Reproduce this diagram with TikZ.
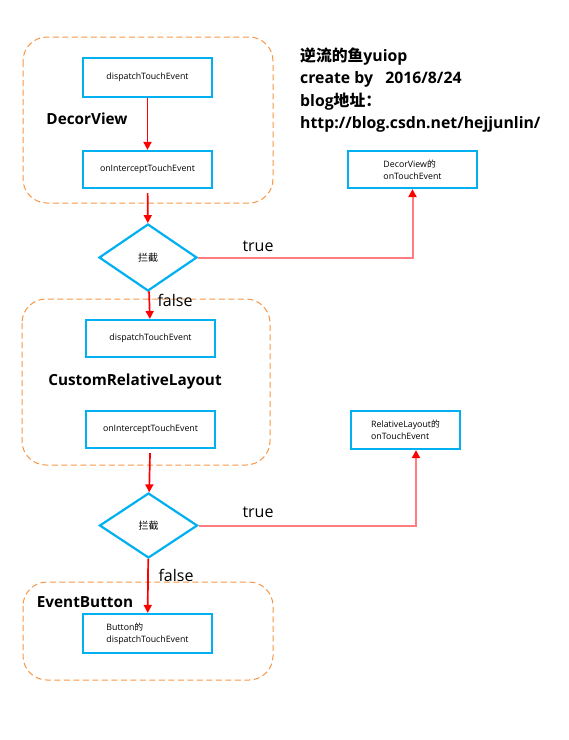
\documentclass[tikz,border=0pt]{standalone}
\usepackage{fontspec}
\setmainfont{Open Sans}
\newfontfamily\cjk{Noto Sans CJK SC}
\usetikzlibrary{arrows.meta,shapes.geometric}
\definecolor{bluec}{HTML}{00B0F0}
\definecolor{orgc}{HTML}{F79646}
\definecolor{redc}{HTML}{FF0000}
\definecolor{pinkc}{HTML}{FF7C80}
\begin{document}
\begin{tikzpicture}[x=1pt,y=-1pt,
  grp/.style={draw=orgc, dash pattern=on 6pt off 3.5pt, rounded corners=24pt, line width=1pt},
  fbox/.style={draw=bluec, line width=2.2pt, font=\fontsize{8.8}{12}\selectfont, align=left, inner sep=0pt},
  dec/.style={diamond, draw=bluec, line width=2.2pt, minimum width=98pt, minimum height=67pt, inner sep=0pt, font=\fontsize{10}{12}\selectfont\cjk},
  arr/.style={draw=redc, line width=1.7pt, -{Triangle[width=8pt,length=8pt]}},
  tarr/.style={draw=pinkc, line width=2pt, -{Triangle[width=8pt,length=8pt,color=redc]}},
  grplabel/.style={font=\fontsize{15.3}{18}\selectfont\bfseries, inner sep=0pt},
  tflabel/.style={font=\fontsize{16}{18}\selectfont, inner sep=0pt}
]
\useasboundingbox (0,0) rectangle (569,740);

% groups
\draw[grp] (23,37) rectangle (273,203);
\draw[grp] (22,299) rectangle (270,465);
\draw[grp] (23,582) rectangle (273,680);

% nodes
\node[fbox, minimum width=129pt, minimum height=39pt] (a1) at (147.5,77.5) {dispatchTouchEvent};
\node[fbox, minimum width=129pt, minimum height=37pt] (a2) at (147.5,169.5) {onInterceptTouchEvent};
\node[dec] (d1) at (148,257.5) {拦截};
\node[fbox, minimum width=129pt, minimum height=37pt] (b1) at (150.5,338.5) {dispatchTouchEvent};
\node[fbox, minimum width=129pt, minimum height=37pt] (b2) at (150.5,429.5) {onInterceptTouchEvent};
\node[dec, minimum height=65pt] (d2) at (148.5,525.5) {拦截};
\node[fbox, minimum width=129pt, minimum height=39pt] (c1) at (147.5,633.5) {Button{\cjk 的}\\dispatchTouchEvent};
\node[fbox, minimum width=129pt, minimum height=37pt] (r1) at (412.5,169.5) {DecorView{\cjk 的}\\onTouchEvent};
\node[fbox, minimum width=109pt, minimum height=38pt] (r2) at (405.5,430) {RelativeLayout{\cjk 的}\\onTouchEvent};

% group labels
\node[grplabel] (l1) at (87,119) {DecorView};
\node[grplabel] (l2) at (135,382) {CustomRelativeLayout};
\node[grplabel] (l3) at (85,602) {EventButton};

% title
\node[anchor=north west, align=left, inner sep=0pt, font=\fontsize{15.8}{22.5}\selectfont\bfseries] (title) at (300,47.5)
 {{\cjk\bfseries 逆流的鱼}yuiop\\create by\ \ \ 2016/8/24\\blog{\cjk\bfseries 地址：}\\http://blog.csdn.net/hejjunlin/};

% connectors
\draw[arr] (a1) -- (a2);
\draw[arr, shorten <=4pt] (a2) -- (d1);
\draw[arr] (d1) -- (b1);
\draw[arr, shorten <=4pt] (b2) -- (d2);
\draw[arr] (d2) -- (c1);
\draw[tarr] (d1.east) -| (r1.south);
\coordinate (r2in) at ([xshift=10.5pt]r2.south);
\draw[tarr] (d2.east) -| (r2in);

% true / false labels
\node[tflabel] (t1) at (258,246) {true};
\node[tflabel] (f1) at (175,300) {false};
\node[tflabel] (t2) at (258,512) {true};
\node[tflabel] (f2) at (176,575) {false};
\end{tikzpicture}
\end{document}
